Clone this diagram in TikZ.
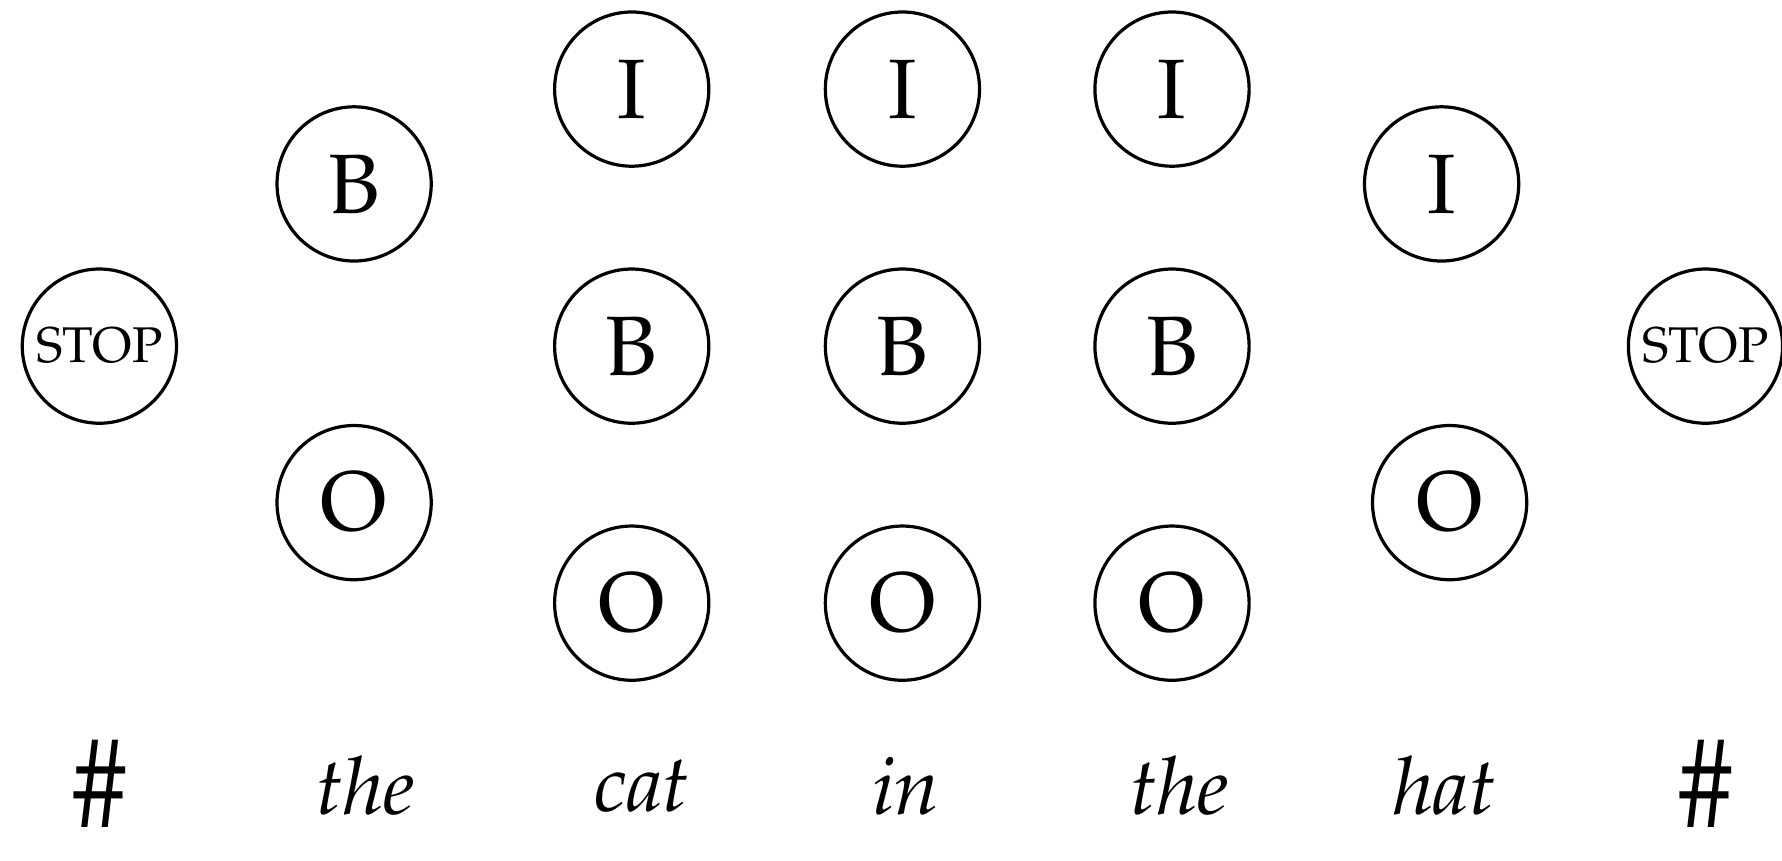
\documentclass[tikz,border=0pt]{standalone}
\usepackage[T1]{fontenc}
\usepackage[sc]{mathpazo}
\newcommand{\stoptag}{{\fontsize{12.5}{15}\selectfont STOP}}
\newcommand{\edgemark}{\scalebox{0.875}[1.06]{\fontsize{30}{32}\selectfont\#}}
\tikzset{
  tag/.style={circle,draw,thick,minimum size=1.35cm,inner sep=0pt,
    font=\fontsize{21}{24}\selectfont},
  word/.style={inner sep=0pt}
}
\begin{document}
\fontsize{20}{24}\selectfont
\begin{tikzpicture}[]
\useasboundingbox (0,0) rectangle (15.6,-7.53);

% tags
\node[tag] (stopL) at (0.87,-3.03) {\stoptag};

\node[tag] (theB) at (3.10,-1.61) {B};
\node[tag] (theO) at (3.10,-4.40) {O};

\node[tag] (catI) at (5.53,-0.78) {I};
\node[tag] (catB) at (5.53,-3.03) {B};
\node[tag] (catO) at (5.53,-5.28) {O};

\node[tag] (inI) at (7.90,-0.78) {I};
\node[tag] (inB) at (7.90,-3.03) {B};
\node[tag] (inO) at (7.90,-5.28) {O};

\node[tag] (thetwoI) at (10.26,-0.78) {I};
\node[tag] (thetwoB) at (10.26,-3.03) {B};
\node[tag] (thetwoO) at (10.26,-5.28) {O};

\node[tag] (hatI) at (12.62,-1.61) {I};
\node[tag] (hatO) at (12.69,-4.40) {O};

\node[tag] (stopR) at (14.93,-3.03) {\stoptag};

% words
\node[word] (wA) at (0.87,-6.86) {\edgemark};
\node[word] (wB) at (3.20,-6.88) {\textit{the}};
\node[word] (wC) at (5.62,-6.88) {\textit{cat}};
\node[word] (wD) at (7.93,-6.88) {\textit{in}};
\node[word] (wE) at (10.33,-6.88) {\textit{the}};
\node[word] (wF) at (12.65,-6.88) {\textit{hat}};
\node[word] (wG) at (14.93,-6.86) {\edgemark};
\end{tikzpicture}
\end{document}
